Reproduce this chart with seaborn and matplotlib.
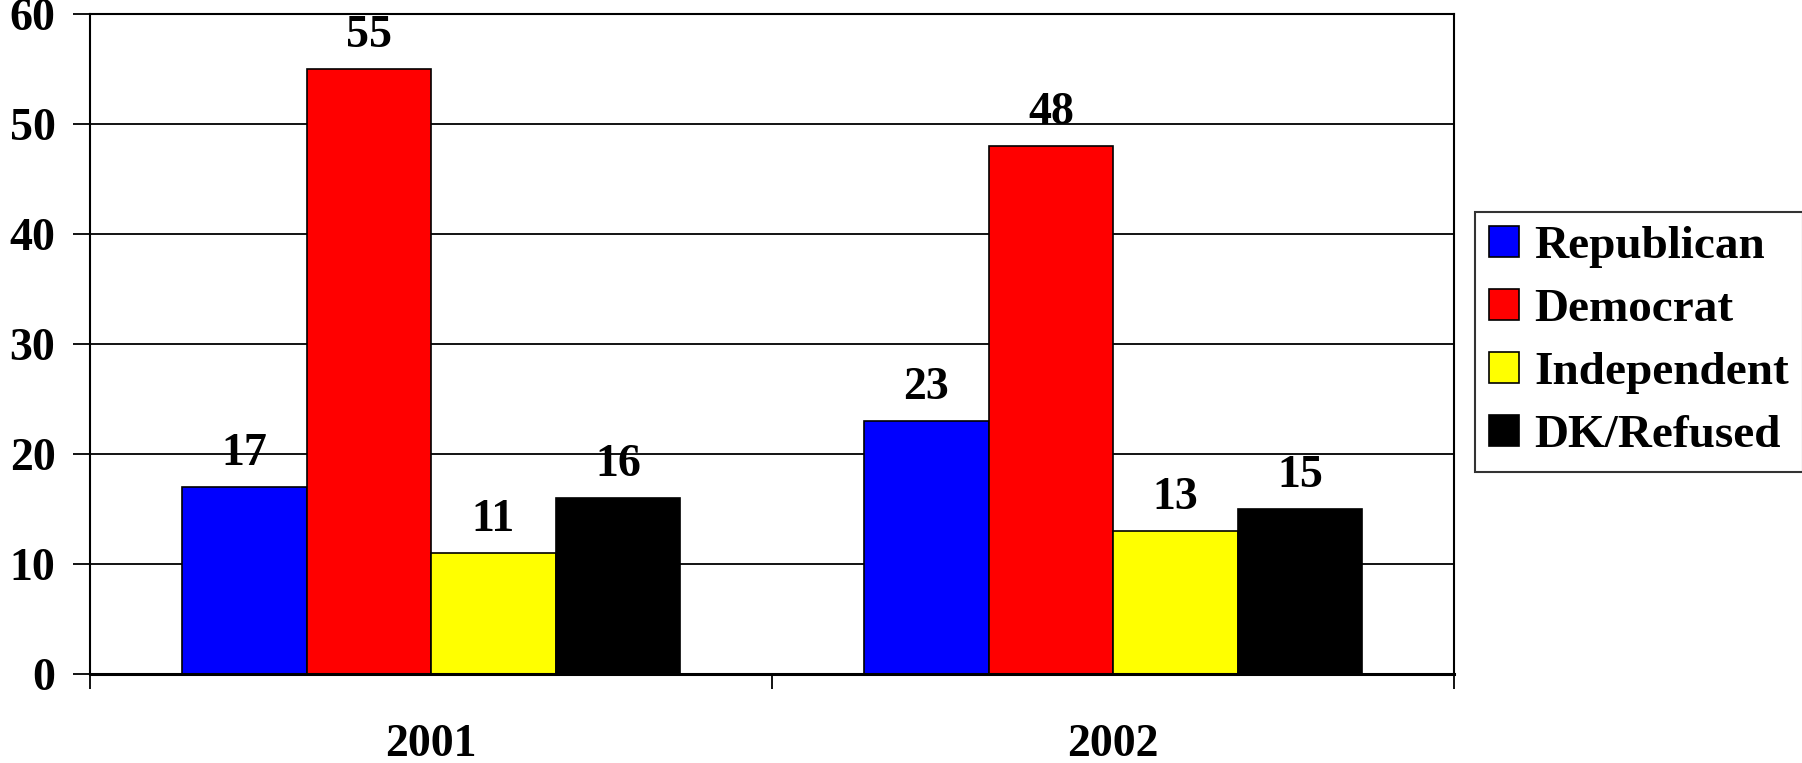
import matplotlib
matplotlib.use("Agg")
import matplotlib.pyplot as plt
import seaborn as sns
import pandas as pd

anos = ["2001", "2002"]
partidos = ["Republican", "Democrat", "Independent", "DK/Refused"]
valores_2001 = [17, 55, 11, 16]
valores_2002 = [23, 48, 13, 15]
cores = ["#0000FF", "#FF0000", "#FFFF00", "#000000"]

df = pd.DataFrame({
    "Ano": [anos[0]] * len(partidos) + [anos[1]] * len(partidos),
    "Partido": partidos * 2,
    "Valor": valores_2001 + valores_2002,
})

sns.set_theme(style="white")
plt.rcParams["font.family"] = ["Liberation Serif", "DejaVu Serif"]
plt.rcParams["font.weight"] = "bold"
plt.rcParams["text.color"] = "black"
plt.rcParams["xtick.color"] = "black"
plt.rcParams["ytick.color"] = "black"
plt.rcParams["axes.labelcolor"] = "black"

fig = plt.figure(figsize=(18.02, 7.63), dpi=100)
ax = fig.add_axes([0.050, 0.1166, 0.757, 0.865])

sns.barplot(
    data=df, x="Ano", y="Valor", hue="Partido",
    hue_order=partidos, palette=cores,
    width=0.73, edgecolor="black", linewidth=1.2,
    saturation=1, ax=ax, legend=True
)

ax.set_ylim(0, 60)
ax.set_xlim(-0.5, 1.5)
ax.set_yticks(range(0, 61, 10))
ax.yaxis.grid(True, color="black", linewidth=1.3)
ax.set_axisbelow(True)

for s in ax.spines.values():
    s.set_color("black")
    s.set_linewidth(1.5)
ax.spines["bottom"].set_linewidth(2.2)

ax.tick_params(axis="y", which="major", left=True, length=12, width=1.3,
               labelsize=33, pad=13)
ax.tick_params(axis="x", which="major", bottom=False, labelsize=33, pad=30)
ax.set_xticks([-0.5, 0.5, 1.5], minor=True)
ax.tick_params(axis="x", which="minor", bottom=True, length=11, width=1.3)
for lbl in ax.get_xticklabels() + ax.get_yticklabels():
    lbl.set_fontweight("bold")

ax.set_xlabel("")
ax.set_ylabel("")

for cont in ax.containers:
    ax.bar_label(cont, fmt="%d", padding=9, fontsize=33, fontweight="bold",
                 color="black")

# legenda fora do eixo, caixa quadrada
ax.get_legend().remove()
handles, labels = ax.get_legend_handles_labels()
leg = fig.legend(
    handles, labels, loc="upper left", bbox_to_anchor=(0.8185, 0.722),
    frameon=True, fancybox=False, edgecolor="black",
    handlelength=0.64, handleheight=0.64, handletextpad=0.32,
    labelspacing=0.44, borderpad=0.3, borderaxespad=0,
    prop={"weight": "bold", "size": 34}
)
leg.get_frame().set_linewidth(1.5)

fig.savefig("out.png", dpi=100, facecolor="white")
